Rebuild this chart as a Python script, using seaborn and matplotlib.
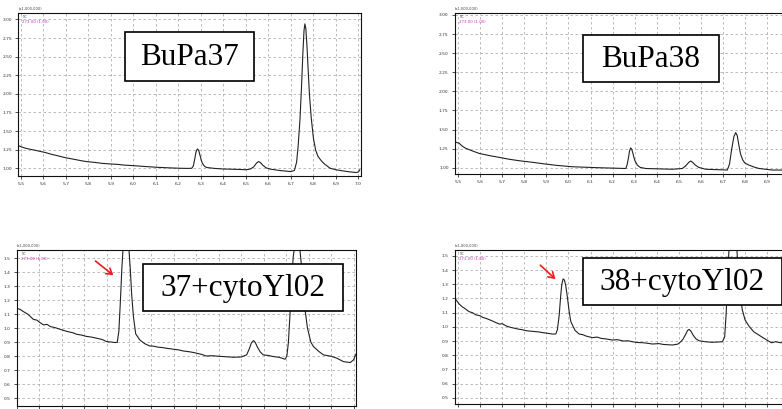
import matplotlib
matplotlib.use("Agg")
import matplotlib.pyplot as plt
from matplotlib.patches import Rectangle, FancyArrowPatch
from matplotlib.ticker import AutoMinorLocator
import seaborn as sns
import pandas as pd

sns.set_theme(style="white")
plt.rcParams["font.family"] = ["DejaVu Sans"]

# Retention time (min) and intensity readings for each run
bupa37_rt = [5.488, 5.50, 5.51, 5.53, 5.556, 5.58, 5.61, 5.63, 5.66, 5.70, 5.74, 5.77, 5.793,
             5.83, 5.86, 5.896, 5.93, 5.96, 6.0, 6.04, 6.07, 6.104, 6.14, 6.17, 6.207, 6.24,
             6.259, 6.266, 6.272, 6.278, 6.284, 6.29, 6.296, 6.302, 6.308, 6.316, 6.326, 6.36,
             6.40, 6.44, 6.47, 6.50, 6.52, 6.535, 6.547, 6.556, 6.565, 6.575, 6.59, 6.61,
             6.65, 6.70, 6.715, 6.725, 6.732, 6.74, 6.747, 6.753, 6.758, 6.762, 6.766, 6.771,
             6.776, 6.782, 6.79, 6.80, 6.81, 6.82, 6.835, 6.85, 6.874, 6.90, 6.93, 6.96, 6.99,
             7.0, 7.006]
bupa37_int = [1.304, 1.29, 1.278, 1.262, 1.246, 1.23, 1.21, 1.192, 1.17, 1.140, 1.118, 1.10,
              1.089, 1.078, 1.066, 1.058, 1.052, 1.042, 1.035, 1.026, 1.02, 1.013, 1.008, 1.004,
              1.00, 0.998, 1.00, 1.03, 1.12, 1.22, 1.26, 1.24, 1.17, 1.10, 1.058, 1.025, 1.01,
              0.998, 0.99, 0.987, 0.984, 0.98, 0.99, 1.02, 1.07, 1.09, 1.075, 1.04, 1.005,
              0.987, 0.97, 0.955, 0.97, 1.08, 1.30, 1.65, 2.10, 2.55, 2.85, 2.94, 2.88, 2.65,
              2.35, 2.00, 1.68, 1.40, 1.24, 1.16, 1.10, 1.055, 1.00, 0.98, 0.965, 0.952, 0.943,
              0.95, 0.98]

bupa38_rt = [5.482, 5.49, 5.505, 5.52, 5.535, 5.565, 5.595, 5.64, 5.686, 5.73, 5.776, 5.84,
             5.897, 5.95, 6.018, 6.08, 6.139, 6.20, 6.26, 6.266, 6.272, 6.277, 6.282, 6.287,
             6.293, 6.30, 6.312, 6.325, 6.35, 6.41, 6.471, 6.516, 6.53, 6.545, 6.554, 6.563,
             6.575, 6.59, 6.622, 6.67, 6.72, 6.73, 6.74, 6.75, 6.758, 6.765, 6.772, 6.78, 6.79,
             6.80, 6.818, 6.84, 6.864, 6.924, 6.962, 7.004]
bupa38_int = [1.34, 1.335, 1.32, 1.28, 1.254, 1.22, 1.188, 1.16, 1.136, 1.112, 1.092, 1.07,
              1.048, 1.03, 1.013, 1.006, 1.00, 0.995, 0.99, 1.04, 1.13, 1.22, 1.26, 1.24, 1.18,
              1.10, 1.035, 1.005, 0.99, 0.985, 0.98, 0.99, 1.02, 1.07, 1.088, 1.07, 1.035,
              1.005, 0.98, 0.975, 0.97, 1.05, 1.25, 1.41, 1.46, 1.42, 1.30, 1.18, 1.10,
              1.06, 1.035, 1.01, 0.99, 0.97, 0.97, 0.962]

mix37_rt = [5.50, 5.515, 5.53, 5.55, 5.574, 5.59, 5.60, 5.619, 5.635, 5.65, 5.67, 5.693, 5.71,
            5.73, 5.75, 5.767, 5.79, 5.81, 5.83, 5.856, 5.88, 5.90, 5.92, 5.938, 5.948, 5.955,
            5.962, 5.968, 5.974, 5.98, 5.99, 6.0, 6.006, 6.012, 6.02, 6.03, 6.048, 6.07, 6.092,
            6.11, 6.13, 6.15, 6.167, 6.20, 6.22, 6.241, 6.27, 6.29, 6.32, 6.345, 6.37, 6.40,
            6.43, 6.464, 6.50, 6.524, 6.535, 6.545, 6.554, 6.562, 6.572, 6.585, 6.598, 6.62,
            6.643, 6.67, 6.695, 6.703, 6.71, 6.717, 6.724, 6.732, 6.742, 6.752, 6.76, 6.768,
            6.776, 6.785, 6.795, 6.81, 6.822, 6.845, 6.866, 6.90, 6.926, 6.955, 6.985, 7.0,
            7.011]
mix37_int = [1.143, 1.135, 1.119, 1.10, 1.064, 1.058, 1.045, 1.024, 1.028, 1.012, 1.005, 0.993,
             0.984, 0.975, 0.968, 0.957, 0.951, 0.942, 0.938, 0.929, 0.92, 0.905, 0.902, 0.898,
             0.90, 0.98, 1.20, 1.42, 1.58, 1.64, 1.64, 1.56, 1.42, 1.24, 1.08, 0.96, 0.917, 0.89,
             0.874, 0.872, 0.865, 0.862, 0.857, 0.85, 0.846, 0.838, 0.832, 0.826, 0.815, 0.802,
             0.804, 0.80, 0.797, 0.793, 0.795, 0.81, 0.85, 0.895, 0.912, 0.90, 0.865, 0.83, 0.81,
             0.806, 0.798, 0.792, 0.779, 0.80, 0.90, 1.10, 1.35, 1.52, 1.62, 1.63, 1.58, 1.45,
             1.28, 1.12, 1.00, 0.90, 0.869, 0.835, 0.81, 0.80, 0.786, 0.762, 0.755, 0.774,
             0.817]

mix38_rt = [5.489, 5.505, 5.52, 5.53, 5.55, 5.565, 5.58, 5.60, 5.611, 5.63, 5.65, 5.686, 5.70,
            5.72, 5.739, 5.77, 5.79, 5.807, 5.84, 5.867, 5.88, 5.90, 5.928, 5.943, 5.95, 5.958,
            5.965, 5.97, 5.976, 5.982, 5.988, 5.996, 6.004, 6.011, 6.03, 6.049, 6.065, 6.08,
            6.109, 6.13, 6.15, 6.17, 6.2, 6.22, 6.25, 6.27, 6.29, 6.31, 6.34, 6.381, 6.41, 6.43,
            6.471, 6.495, 6.509, 6.52, 6.532, 6.54, 6.547, 6.555, 6.565, 6.578, 6.592, 6.62,
            6.652, 6.698, 6.708, 6.715, 6.722, 6.73, 6.738, 6.746, 6.754, 6.762, 6.77, 6.778,
            6.788, 6.80, 6.818, 6.84, 6.863, 6.901, 6.92, 6.939, 6.962, 6.98, 7.004]
mix38_int = [1.194, 1.161, 1.14, 1.13, 1.107, 1.10, 1.085, 1.078, 1.067, 1.058, 1.045, 1.02,
             1.022, 1.005, 0.996, 0.985, 0.98, 0.973, 0.968, 0.964, 0.96, 0.956, 0.949, 0.95,
             0.98, 1.08, 1.22, 1.30, 1.338, 1.33, 1.29, 1.20, 1.10, 1.036, 0.975, 0.949, 0.945,
             0.935, 0.924, 0.928, 0.918, 0.915, 0.907, 0.91, 0.90, 0.902, 0.895, 0.89, 0.888,
             0.879, 0.882, 0.876, 0.872, 0.878, 0.895, 0.915, 0.95, 0.975, 0.982, 0.97, 0.942,
             0.915, 0.902, 0.895, 0.891, 0.895, 0.93, 1.10, 1.38, 1.62, 1.78, 1.80, 1.74, 1.58,
             1.38, 1.22, 1.12, 1.05, 1.005, 0.965, 0.942, 0.905, 0.888, 0.895, 0.888, 0.892,
             0.89]

panel_titles = ["BuPa37", "BuPa38", "37+cytoYl02", "38+cytoYl02"]
x_ticks = [5.5, 5.6, 5.7, 5.8, 5.9, 6.0, 6.1, 6.2, 6.3, 6.4, 6.5, 6.6, 6.7, 6.8, 6.9, 7.0]
top_y_ticks = [1.00, 1.25, 1.50, 1.75, 2.00, 2.25, 2.50, 2.75, 3.00]
bottom_y_ticks = [0.5, 0.6, 0.7, 0.8, 0.9, 1.0, 1.1, 1.2, 1.3, 1.4, 1.5]

W, H = 782, 409
fig = plt.figure(figsize=(W / 100, H / 100), dpi=100)


def fx(px):
    return px / W


def fy(py):
    return 1 - py / H


def px_axes(left, top, right, bottom):
    return fig.add_axes([fx(left), fy(bottom), (right - left) / W, (bottom - top) / H])


panels = [
    dict(rect=(18.3, 12.7, 360.7, 175.7), rt=bupa37_rt, it=bupa37_int, xlim=(5.488, 7.01),
         ylim=(0.90, 3.09), yticks=top_y_ticks, fmt="{:.2f}",
         box=(125, 32, 254, 81), arrow=None),
    dict(rect=(455, 12.7, 790, 174), rt=bupa38_rt, it=bupa38_int, xlim=(5.486, 7.004),
         ylim=(0.918, 3.03), yticks=top_y_ticks, fmt="{:.2f}",
         box=(583, 35, 719, 82), arrow=None),
    dict(rect=(16.7, 250, 356, 405.7), rt=mix37_rt, it=mix37_int, xlim=(5.5, 7.011),
         ylim=(0.447, 1.559), yticks=bottom_y_ticks, fmt="{:.1f}",
         box=(143, 264, 343, 311), arrow=((93.3, 259.3), (115.5, 277.0))),
    dict(rect=(455, 250, 790, 404), rt=mix38_rt, it=mix38_int, xlim=(5.486, 7.004),
         ylim=(0.456, 1.542), yticks=bottom_y_ticks, fmt="{:.1f}",
         box=(583, 258, 781.5, 305), arrow=((538.3, 263.3), (557.5, 281.0))),
]

for title, p in zip(panel_titles, panels):
    ax = px_axes(*p["rect"])
    df = pd.DataFrame({"rt": p["rt"], "intensity": p["it"]})
    sns.lineplot(data=df, x="rt", y="intensity", ax=ax, color="#222222", lw=0.8,
                 sort=False, estimator=None)
    ax.set_xlim(*p["xlim"])
    ax.set_ylim(*p["ylim"])
    ax.set_xlabel("")
    ax.set_ylabel("")
    ax.set_xticks(x_ticks)
    ax.set_xticklabels([f"{t:.1f}" for t in x_ticks])
    ax.set_yticks(p["yticks"])
    ax.set_yticklabels([p["fmt"].format(t) for t in p["yticks"]])
    ax.xaxis.set_minor_locator(AutoMinorLocator(5))
    ax.yaxis.set_minor_locator(AutoMinorLocator(5))
    ax.tick_params(axis="both", which="major", labelsize=3.2, length=2.5, width=0.6,
                   colors="#333333", pad=2, direction="out")
    ax.tick_params(axis="both", which="minor", length=1.2, width=0.5, color="#333333",
                   direction="out")
    ax.tick_params(left=True, bottom=True)
    ax.grid(True, which="major", color="#b0b0b0", ls=(0, (3, 3)), lw=0.6)
    for s in ax.spines.values():
        s.set_visible(True)
        s.set_color("#111111")
        s.set_linewidth(0.8)
    ax.set_facecolor("white")
    ax.text(0.0, 1.012, "(x1,000,000)", transform=ax.transAxes, fontsize=2.6,
            color="#444444", ha="left", va="bottom")
    ax.text(0.012, 0.985, "TIC", transform=ax.transAxes, fontsize=2.2,
            color="#444444", ha="left", va="top")
    ax.text(0.012, 0.955, "273.00 (1.00)", transform=ax.transAxes, fontsize=2.8,
            color="#cc33cc", ha="left", va="top")

    # Sample label in a framed box
    x0, y0, x1, y1 = p["box"]
    fig.add_artist(Rectangle((fx(x0), fy(y1)), (x1 - x0) / W, (y1 - y0) / H,
                             transform=fig.transFigure, fc="white", ec="black", lw=1.2,
                             zorder=5))
    fig.text(fx((x0 + x1) / 2), fy((y0 + y1) / 2 + 1), title, fontsize=22.5,
             family="Liberation Serif", ha="center", va="center", color="black", zorder=6)

    if p["arrow"] is not None:
        (ax0, ay0), (ax1, ay1) = p["arrow"]
        fig.add_artist(FancyArrowPatch(
            (fx(ax0), fy(ay0)), (fx(ax1), fy(ay1)), transform=fig.transFigure,
            arrowstyle="->,head_length=4,head_width=2.5", color="#ee1c1c", lw=1.2))

fig.savefig("out.png", dpi=100, facecolor="white")
